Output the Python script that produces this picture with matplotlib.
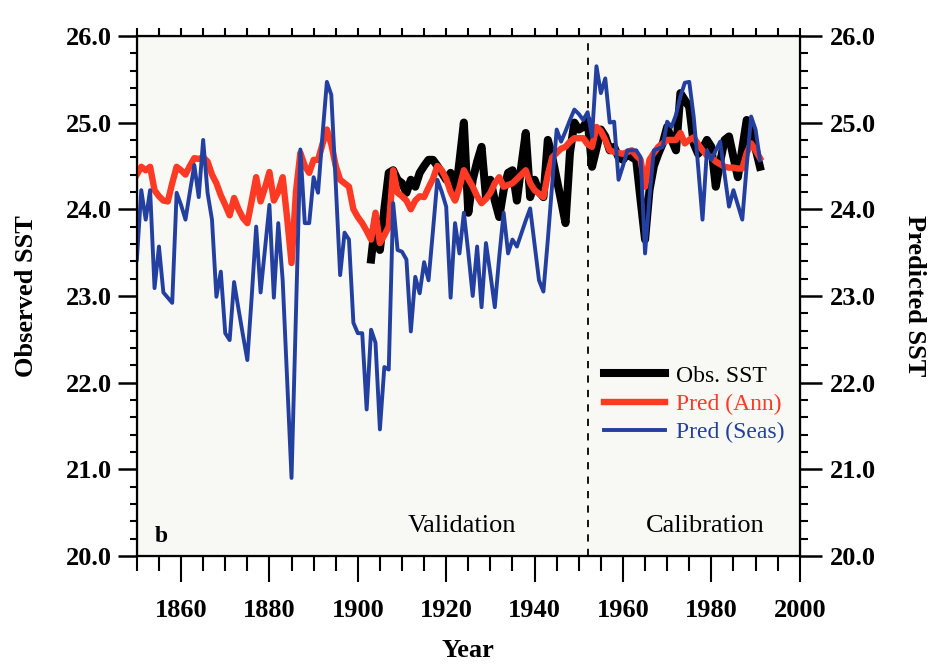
import numpy as np
import matplotlib
matplotlib.use("Agg")
import matplotlib.pyplot as plt
from matplotlib.ticker import MultipleLocator, FormatStrFormatter

# annual series, degrees C
years_pred = np.arange(1850, 1992)
years_obs = np.arange(1903, 1992)

pred_ann = [
    24.40, 24.49, 24.45, 24.49, 24.22, 24.15, 24.10, 24.09, 24.30, 24.49,  # 1850s
    24.45, 24.40, 24.50, 24.59, 24.58, 24.60, 24.55, 24.40, 24.30, 24.16,  # 1860s
    24.05, 23.93, 24.13, 24.00, 23.90, 23.84, 24.10, 24.37, 24.09, 24.25,  # 1870s
    24.43, 24.10, 24.20, 24.37, 23.90, 23.38, 24.20, 24.65, 24.50, 24.42,  # 1880s
    24.57, 24.57, 24.75, 24.92, 24.75, 24.50, 24.34, 24.30, 24.26, 24.00,  # 1890s
    23.91, 23.84, 23.75, 23.65, 23.96, 23.61, 23.70, 23.80, 24.45, 24.19,  # 1900s
    24.15, 24.10, 24.00, 24.10, 24.15, 24.14, 24.25, 24.35, 24.50, 24.45,  # 1910s
    24.35, 24.20, 24.10, 24.25, 24.45, 24.35, 24.26, 24.15, 24.07, 24.12,  # 1920s
    24.19, 24.30, 24.37, 24.26, 24.28, 24.30, 24.35, 24.40, 24.45, 24.30,  # 1930s
    24.22, 24.18, 24.14, 24.40, 24.60, 24.65, 24.70, 24.72, 24.78, 24.82,  # 1940s
    24.82, 24.82, 24.75, 24.72, 24.95, 24.90, 24.80, 24.68, 24.66, 24.65,  # 1950s
    24.64, 24.66, 24.68, 24.62, 24.57, 24.26, 24.57, 24.65, 24.72, 24.76,  # 1960s
    24.80, 24.80, 24.80, 24.88, 24.76, 24.80, 24.83, 24.75, 24.68, 24.62,  # 1970s
    24.60, 24.55, 24.52, 24.49, 24.48, 24.48, 24.47, 24.47, 24.65, 24.76,  # 1980s
    24.68, 24.59,
]

pred_seas = [
    23.42, 24.22, 23.88, 24.22, 23.09, 23.57, 23.04, 22.98, 22.92, 24.19,
    24.05, 23.88, 24.20, 24.51, 24.14, 24.80, 24.19, 23.88, 22.99, 23.28,
    22.57, 22.49, 23.16, 22.85, 22.55, 22.26, 23.00, 23.80, 23.04, 23.55,
    24.05, 22.98, 23.84, 23.18, 22.05, 20.90, 22.80, 24.69, 23.84, 23.84,
    24.37, 24.19, 24.85, 25.47, 25.32, 24.30, 23.24, 23.73, 23.65, 22.69,
    22.57, 22.57, 21.69, 22.61, 22.46, 21.46, 22.18, 22.15, 24.07, 23.53,
    23.51, 23.42, 22.59, 23.22, 23.03, 23.39, 23.18, 23.75, 24.34, 24.20,
    24.03, 22.98, 23.84, 23.49, 23.96, 23.50, 23.00, 23.57, 22.87, 23.61,
    23.25, 22.87, 23.45, 23.96, 23.49, 23.65, 23.57, 23.72, 23.87, 24.01,
    23.60, 23.18, 23.05, 23.65, 24.30, 24.92, 24.78, 24.90, 25.03, 25.15,
    25.10, 25.03, 25.12, 24.84, 25.65, 25.34, 25.51, 25.00, 25.01, 24.34,
    24.50, 24.68, 24.68, 24.68, 24.60, 23.49, 24.14, 24.68, 24.70, 24.72,
    25.01, 24.95, 25.09, 25.30, 25.46, 25.47, 25.07, 24.50, 23.88, 24.68,
    24.57, 24.68, 24.78, 24.40, 24.03, 24.22, 24.05, 23.88, 24.50, 25.07,
    24.92, 24.57,
]

obs_sst = [
    23.42, 23.88, 23.53, 24.00, 24.42, 24.45, 24.34,                       # 1903-09
    24.30, 24.19, 24.34, 24.26, 24.42, 24.50, 24.57, 24.57, 24.50, 24.42,  # 1910s
    24.34, 24.42, 24.13, 24.55, 25.00, 23.96, 24.34, 24.55, 24.72, 24.14,  # 1920s
    24.34, 24.10, 23.91, 24.22, 24.42, 24.45, 24.10, 24.50, 24.88, 24.14,  # 1930s
    24.34, 24.20, 24.14, 24.80, 24.60, 24.35, 24.10, 23.84, 24.65, 25.00,  # 1940s
    24.92, 24.95, 25.03, 24.49, 24.70, 24.92, 24.84, 24.68, 24.72, 24.60,  # 1950s
    24.57, 24.64, 24.60, 24.57, 24.10, 23.65, 24.22, 24.50, 24.64, 24.76,  # 1960s
    24.95, 24.80, 24.68, 25.34, 25.26, 25.18, 24.76, 24.64, 24.70, 24.80,  # 1970s
    24.72, 24.26, 24.55, 24.80, 24.84, 24.60, 24.37, 24.70, 25.03, 24.95,  # 1980s
    24.70, 24.49,
]

split_year = 1952

RED = "#ff3a24"
BLUE = "#2340a0"

plt.rcParams["font.family"] = ["Liberation Serif", "DejaVu Serif"]

fig = plt.figure(figsize=(9.31, 6.65), dpi=100)
ax = fig.add_axes([0.147, 0.164, 0.712, 0.782])
ax.set_facecolor("#f8f9f4")

l_obs, = ax.plot(years_obs, obs_sst, color="black", lw=5.8, zorder=3,
                 solid_joinstyle="round")
l_ann, = ax.plot(years_pred, pred_ann, color=RED, lw=4.6, zorder=4,
                 solid_joinstyle="round")
l_seas, = ax.plot(years_pred, pred_seas, color=BLUE, lw=2.8, zorder=5,
                  solid_joinstyle="round")

ax.axvline(split_year, color="black", lw=1.3, ls=(0, (4, 4)), zorder=2)

ax.set_xlim(1850, 2000)
ax.set_ylim(20.0, 26.0)

ax.set_xticks(np.arange(1860, 2001, 20))
ax.xaxis.set_minor_locator(MultipleLocator(5))
ax.yaxis.set_major_locator(MultipleLocator(1.0))
ax.yaxis.set_minor_locator(MultipleLocator(0.2))
ax.yaxis.set_major_formatter(FormatStrFormatter("%.1f"))

ax.tick_params(axis="x", which="major", direction="out", length=19, width=1.5,
               pad=12, labelsize=19)
ax.tick_params(axis="x", which="minor", direction="out", length=11, width=1.5)
ax.tick_params(axis="y", which="major", direction="out", length=14, width=1.8,
               pad=4, labelsize=19)
ax.tick_params(axis="y", which="minor", direction="out", length=5, width=1.5)
for lab in ax.get_xticklabels() + ax.get_yticklabels():
    lab.set_fontweight("bold")

for sp in ax.spines.values():
    sp.set_linewidth(1.6)

# top ticks only
top = ax.secondary_xaxis("top")
top.set_xticks(np.arange(1850, 2001, 5))
top.set_xticklabels([])
top.tick_params(direction="out", length=6, width=1.5)

# right axis carries the predicted scale
axr = ax.twinx()
axr.set_ylim(ax.get_ylim())
axr.yaxis.set_major_locator(MultipleLocator(1.0))
axr.yaxis.set_minor_locator(MultipleLocator(0.2))
axr.yaxis.set_major_formatter(FormatStrFormatter("%.1f"))
axr.tick_params(axis="y", which="major", direction="out", length=16, width=1.8,
                pad=6, labelsize=19)
axr.tick_params(axis="y", which="minor", direction="out", length=6, width=1.5)
for lab in axr.get_yticklabels():
    lab.set_fontweight("bold")

ax.set_xlabel("Year", fontsize=19, fontweight="bold", labelpad=12)
ax.set_ylabel("Observed SST", fontsize=19, fontweight="bold", labelpad=20)
axr.set_ylabel("Predicted SST", fontsize=19, fontweight="bold", rotation=270,
               labelpad=36)

ax.text(1923.5, 20.34, "Validation", fontsize=19, ha="center", va="center")
ax.text(1978.6, 20.34, "Calibration", fontsize=19, ha="center", va="center")
ax.text(1855.5, 20.22, "b", fontsize=17, fontweight="bold", ha="center",
        va="center")

leg = ax.legend([l_obs, l_ann, l_seas], ["Obs. SST", "Pred (Ann)", "Pred (Seas)"],
                loc="upper left", bbox_to_anchor=(0.69, 0.385), frameon=False,
                fontsize=17, handlelength=2.6, handletextpad=0.45,
                labelspacing=0.28, borderaxespad=0.0,
                labelcolor=["black", RED, BLUE])
leg.set_zorder(6)

fig.savefig("out.png", dpi=100, facecolor="white")
